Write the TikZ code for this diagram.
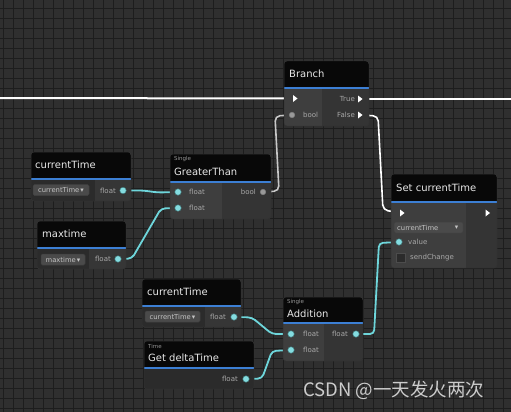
\documentclass[tikz,border=0pt]{standalone}
\usepackage{fontspec}
\setmainfont{DejaVu Sans}
\newfontfamily\cjk{Noto Sans CJK SC}
\definecolor{bgc}{HTML}{2F2F2F}
\definecolor{gridc}{HTML}{1D1D1D}
\definecolor{leftc}{HTML}{3E3E3E}
\definecolor{rightc}{HTML}{343434}
\definecolor{darkc}{HTML}{2B2B2B}
\definecolor{midc}{HTML}{363636}
\definecolor{headc}{HTML}{080808}
\definecolor{bluec}{HTML}{3C7FD4}
\definecolor{wirec}{HTML}{6ED6DB}
\definecolor{titlec}{HTML}{E8E8E8}
\definecolor{labelc}{HTML}{A8A8A8}
\definecolor{smallc}{HTML}{959595}
\definecolor{dropc}{HTML}{4A4A4A}
\definecolor{dropt}{HTML}{C4C4C4}
\definecolor{greywire}{HTML}{C8C8C8}
\pgfdeclarelayer{gridl}
\pgfdeclarelayer{wirel}
\pgfsetlayers{gridl,wirel,main}
\tikzset{
  titletext/.style={anchor=west, inner sep=0pt, text=titlec, font=\fontsize{10}{12}\selectfont},
  cattext/.style={anchor=west, inner sep=0pt, text=smallc, font=\fontsize{5.5}{7}\selectfont},
  plabel/.style={inner sep=0pt, text=labelc, font=\fontsize{7}{8}\selectfont},
  droptext/.style={inner sep=0pt, text=dropt, font=\fontsize{6.8}{8}\selectfont},
  dropbox/.style={draw=black!75, fill=dropc, rounded corners=1.5pt, line width=0.5pt},
  dport/.style={circle, inner sep=0pt, minimum size=6.5pt, fill=wirec!85!white, draw=wirec!55!black, line width=0.4pt},
  gport/.style={circle, inner sep=0pt, minimum size=5.5pt, fill=gray!80, draw=black!50, line width=0.5pt},
  execfill/.style={fill=white},
  wire/.style={draw=wirec, line width=1.8pt, rounded corners=4pt},
  flow/.style={draw=white, line width=2pt},
  boolwire/.style={draw=greywire, line width=1.6pt, rounded corners=5pt},
  checkbx/.style={draw=black!70, fill=darkc, minimum size=9pt, inner sep=0pt, line width=0.5pt},
}
% x1 y1 x2 y2 yblue xsplit leftcolour rightcolour
\newcommand\ublock[8]{%
  \begin{scope}
    \clip[rounded corners=3pt] (#1,#2) rectangle (#3,#4);
    \fill[#8] (#1,#2) rectangle (#3,#4);
    \fill[#7] (#1,#5) rectangle (#6,#4);
    \fill[headc] (#1,#2) rectangle (#3,#5);
    \draw[bluec, line width=1.5pt] (#1,#5) -- (#3,#5);
  \end{scope}
  \draw[black!80, line width=0.5pt, rounded corners=3pt] (#1,#2) rectangle (#3,#4);}
\newcommand\uexec[1]{\fill[execfill] (#1) ++(-2,-3.5) -- ++(4.5,3.5) -- ++(-4.5,3.5) -- cycle;}
\begin{document}
\begin{tikzpicture}[x=1pt,y=-1pt]
\useasboundingbox (0,0) rectangle (511,412);
\begin{pgfonlayer}{gridl}
  \clip (0,0) rectangle (511,412);
  \fill[bgc] (0,0) rectangle (511,412);
  \foreach \i in {0,...,51} \draw[gridc, line width=1.4pt] ({3.3+10*\i},0) -- ++(0,412);
  \foreach \i in {0,...,41} \draw[gridc, line width=1.4pt] (0,{8.3+10*\i}) -- ++(511,0);
\end{pgfonlayer}

% ---------- Branch ----------
\ublock{284}{61}{369}{126}{88}{322}{leftc}{rightc}
\node[titletext] (brT) at (289,74) {Branch};
\coordinate (br-in) at (295,98.5);
\uexec{br-in}
\node[plabel, anchor=east] (brTrue) at (355,99) {True};
\coordinate (br-t) at (360,99);
\uexec{br-t}
\node[gport] (br-b) at (292,115) {};
\node[plabel, anchor=west] (brBool) at (303,115) {bool};
\node[plabel, anchor=east] (brFalse) at (355,115) {False};
\coordinate (br-f) at (360,115);
\uexec{br-f}

% ---------- currentTime (top) ----------
\ublock{31}{152}{131}{201}{179}{95}{darkc}{midc}
\node[titletext] (ct1T) at (35,164.5) {currentTime};
\draw[dropbox] (33,184.5) rectangle (89,195.5);
\node[droptext] (ct1D) at (61,190) {currentTime\,▾};
\node[plabel, anchor=east] (ct1L) at (116,190.5) {float};
\node[dport] (ct1-o) at (123,190.5) {};

% ---------- maxtime ----------
\ublock{37}{221}{126}{269}{248}{89}{darkc}{midc}
\node[titletext] (mxT) at (42,233.5) {maxtime};
\draw[dropbox] (41,254) rectangle (85,265);
\node[droptext] (mxD) at (63,259.5) {maxtime\,▾};
\node[plabel, anchor=east] (mxL) at (111,259) {float};
\node[dport] (mx-o) at (118,259) {};

% ---------- GreaterThan ----------
\ublock{170}{154}{271}{219}{182}{222}{leftc}{rightc}
\node[cattext] (gtC) at (174,159) {Single};
\node[titletext] (gtT) at (174,172) {GreaterThan};
\node[dport] (gt-a) at (178,192) {};
\node[plabel, anchor=west] (gtLa) at (189,192) {float};
\node[dport] (gt-b) at (178,208) {};
\node[plabel, anchor=west] (gtLb) at (189,208) {float};
\node[plabel, anchor=east] (gtLo) at (256,192) {bool};
\node[gport] (gt-o) at (263,192) {};

% ---------- Set currentTime ----------
\ublock{391}{174}{497}{268}{202}{466}{leftc}{rightc}
\node[titletext] (setT) at (396,187.5) {Set currentTime};
\coordinate (set-in) at (402,213);
\uexec{set-in}
\coordinate (set-out) at (487.5,213);
\uexec{set-out}
\draw[dropbox] (394,222) rectangle (463,233);
\node[droptext, anchor=west] (setD) at (397,227.5) {currentTime};
\node[droptext] (setArr) at (456.5,227.5) {▾};
\node[dport] (set-v) at (399,242) {};
\node[plabel, anchor=west] (setLv) at (408,242) {value};
\node[checkbx] (setCb) at (400.5,257.5) {};
\node[plabel, anchor=west] (setLs) at (410,258) {sendChange};

% ---------- currentTime (bottom) ----------
\ublock{142}{279}{241}{327}{306}{205}{darkc}{midc}
\node[titletext] (ct2T) at (147,291.5) {currentTime};
\draw[dropbox] (145,311) rectangle (200,322);
\node[droptext] (ct2D) at (172.5,316.5) {currentTime\,▾};
\node[plabel, anchor=east] (ct2L) at (226,317) {float};
\node[dport] (ct2-o) at (234,317) {};

% ---------- Addition ----------
\ublock{283}{297}{363}{361}{323}{324}{leftc}{rightc}
\node[cattext] (adC) at (287,302) {Single};
\node[titletext] (adT) at (287,313.5) {Addition};
\node[dport] (add-a) at (291,334) {};
\node[plabel, anchor=west] (adLa) at (303,334) {float};
\node[dport] (add-b) at (291,350) {};
\node[plabel, anchor=west] (adLb) at (303,350) {float};
\node[plabel, anchor=east] (adLo) at (348,334) {float};
\node[dport] (add-o) at (356,334) {};

% ---------- Get deltaTime ----------
\ublock{144}{341}{254}{389}{368}{144}{darkc}{darkc}
\node[cattext] (dtC) at (148,346) {Time};
\node[titletext] (dtT) at (148,357.5) {Get deltaTime};
\node[plabel, anchor=east] (dtL) at (238,379) {float};
\node[dport] (dt-o) at (246,379) {};

% ---------- wires ----------
\coordinate (flowL) at (0,98);
\coordinate (flowR) at (511,99);
\begin{pgfonlayer}{wirel}
  \draw[flow] (flowL) -- (br-in);
  \draw[flow] (br-t) -- (flowR);
  \draw[boolwire] (gt-o.center) -- (279,191) -- (275,116) -- (br-b.center);
  \draw[boolwire, draw=white] (br-f) -- (378,116) -- (383,210) -- (set-in);
  \draw[wire] (ct1-o.center) -- (143,190.5) -- (158,192.5) -- (gt-a.center);
  \draw[wire] (mx-o.center) -- (132,258.5) -- (161,208.5) -- (gt-b.center);
  \draw[wire] (ct2-o.center) -- (252,317.5) -- (272,334) -- (add-a.center);
  \draw[wire] (dt-o.center) -- (262,378.5) -- (272,351) -- (add-b.center);
  \draw[wire] (add-o.center) -- (374,334) -- (379,243) -- (set-v.center);
\end{pgfonlayer}

% ---------- watermark ----------
\node[anchor=west, inner sep=0pt, text=white!80!black, font=\cjk\fontsize{18.5}{20}\selectfont] (wm) at (303,390) {CSDN @一天发火两次};
\end{tikzpicture}
\end{document}
